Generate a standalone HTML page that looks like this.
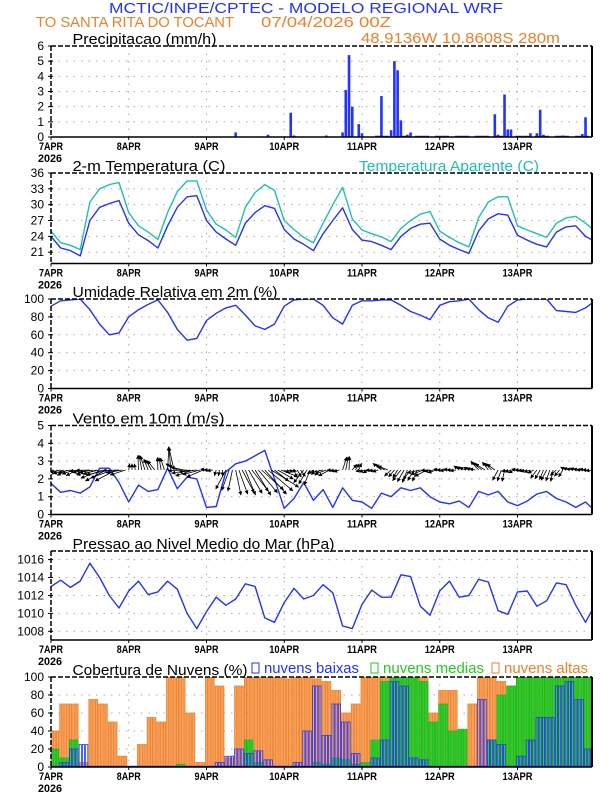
<!DOCTYPE html>
<html><head><meta charset="utf-8">
<style>
html,body{margin:0;padding:0;background:#fff;}
svg{display:block;font-family:"Liberation Sans",sans-serif;}
</style></head>
<body>
<svg id="chart" width="612" height="792" viewBox="0 0 612 792" xmlns="http://www.w3.org/2000/svg">
<defs>
<marker id="ah" viewBox="0 0 10 10" refX="9" refY="5" markerWidth="5" markerHeight="5" orient="auto"><path d="M0,0L10,5L0,10z" fill="#000"/></marker>
</defs>
<text x="109" y="13" font-size="15" fill="#2233ff" textLength="394" lengthAdjust="spacingAndGlyphs">MCTIC/INPE/CPTEC - MODELO REGIONAL WRF</text>
<text x="36" y="27" font-size="15" fill="#f07f2a" textLength="198" lengthAdjust="spacingAndGlyphs">TO SANTA RITA DO TOCANT</text>
<text x="261" y="27" font-size="15" fill="#f07f2a" textLength="130" lengthAdjust="spacingAndGlyphs">07/04/2026 00Z</text>
<text x="361" y="43" font-size="15" fill="#f07f2a" textLength="199" lengthAdjust="spacingAndGlyphs">48.9136W 10.8608S 280m</text>
<g id="plots"></g>
</svg>
<script>
// ---- data (3-hourly unless noted) ----
const dayLabels = ["7APR","8APR","9APR","10APR","11APR","12APR","13APR"];
const precipHours = [57,67,74,75,85,90,91,92,93,95,96,102,105,106,107,108,110,111,137,138,140,141,142,148,150,151,152,158,164,165];
const precipValues = [0.3,0.15,1.6,0.1,0.1,0.3,3.1,5.4,2.0,0.85,0.25,2.7,0.45,5.0,4.4,1.1,0.15,0.3,1.5,0.15,2.8,0.5,0.5,0.25,0.25,1.8,0.15,0.1,0.2,1.3];
const tempValues = [24,21.8,21.3,20.3,27,29.5,30.2,30.8,26.5,24.3,23.2,21.8,26,29.5,31.5,31.7,27,24.8,23.5,22.3,26.5,28.5,29.8,29.3,25.3,23.5,22.5,21.3,24.5,27,29.4,25.3,23.3,23,22.3,21.5,24,25.5,26.3,26.5,23.5,22.3,21.5,20.8,25,27.3,28.3,28,24.2,23.3,22.5,22,24.8,25.8,26,24,23];
const apparentValues = [25,22.8,22.3,21.5,30.5,33,33.8,34.2,28.5,26,24.8,23.4,28.5,32.5,34.5,34.5,29,26.3,25.2,23.8,29.5,32.3,33.8,32.7,27,25.3,23.8,22.8,26.5,30,33.3,27.3,25.2,24.5,23.9,23,25.5,27,28.2,28.7,25,23.8,22.8,22,27.5,30.5,31.5,31.5,26,25.2,24.5,23.8,26.5,27.5,27.8,26.5,25];
const rhValues = [92,98,99,100,88,72,60,62,80,88,94,99,85,66,54,56,76,84,90,93,82,70,66,72,92,99,100,100,93,79,72,93,98,98,99,99,93,86,82,77,93,97,98,100,88,79,74,92,99,100,100,100,87,86,85,90,98];
const windSpeed = [1.75,1.25,1.35,1.2,1.55,2.6,2.6,1.8,0.7,1.65,1.3,1.4,2.6,1.45,2.1,2.0,0.4,0.45,2.4,2.85,3.0,3.3,3.6,2.0,0.35,0.9,1.8,0.8,1.4,0.4,1.5,0.8,0.7,0.35,1.2,1.0,1.5,1.35,1.5,1.0,0.7,0.6,0.75,0.4,1.3,1.1,1.3,0.7,0.5,0.75,1.15,1.3,0.9,0.7,0.4,0.7,0.2];
const windDir = [210,200,200,195,190,200,200,190,90,100,120,100,95,160,190,195,180,260,250,290,300,310,320,330,340,300,240,220,200,190,80,60,200,190,150,230,240,240,200,190,180,180,150,160,140,135,250,200,180,200,240,250,230,160,170,180,180];
const pressValues = [1013.0,1013.7,1012.9,1013.6,1015.6,1014.0,1012.0,1010.6,1012.5,1013.6,1012.1,1012.4,1013.6,1012.7,1010.0,1008.3,1010.2,1011.8,1010.9,1011.6,1013.3,1013.0,1009.5,1009.0,1011.2,1012.8,1011.6,1012.0,1013.2,1012.3,1008.6,1008.3,1011.0,1012.6,1011.8,1011.8,1014.3,1014.1,1010.8,1009.8,1012.5,1013.6,1011.8,1012.0,1013.8,1013.5,1010.3,1009.9,1012.4,1012.5,1010.8,1011.4,1013.4,1013.2,1010.9,1009.0,1011.0];
const cloudHigh = [40,70,70,5,75,70,50,12,0,25,55,50,100,100,60,5,100,90,10,90,100,100,100,100,98,100,100,98,95,85,60,70,100,100,100,100,100,100,100,60,85,85,40,70,100,100,95,90,100,100,100,100,100,100,100,100];
const cloudMid = [20,10,30,0,0,0,0,0,0,0,0,0,0,3,0,0,0,0,0,0,30,5,0,0,0,0,0,5,3,10,8,3,5,30,95,100,100,100,95,50,70,40,42,0,0,30,80,90,100,100,100,100,100,100,100,100];
const cloudLow = [0,5,20,25,0,0,0,0,0,0,0,0,0,0,0,0,0,5,12,20,15,18,8,0,0,5,40,90,35,70,50,15,0,10,30,95,90,10,8,0,0,0,0,0,75,30,25,0,12,30,55,55,90,95,75,20];

// ---- layout ----
const X0 = 51, X1 = 592, HOURS = 167;
const px = h => X0 + h * (X1 - X0) / HOURS;
const NS = "http://www.w3.org/2000/svg";
const root = document.getElementById("plots");
function mk(tag, attrs, parent) {
  const e = document.createElementNS(NS, tag);
  for (const k in attrs) e.setAttribute(k, attrs[k]);
  (parent || root).appendChild(e);
  return e;
}
function panel(name, top, bot, ymin, ymax, ticks, title, clipId) {
  const g = mk("g", {});
  
  
  const Y = v => bot - (v - ymin) / (ymax - ymin) * (bot - top);
  ticks.forEach(t => {
    if (t > ymin && t < ymax) mk("line", {x1: X0, x2: X1, y1: Y(t), y2: Y(t), stroke: "#aaa", "stroke-width": 1, "stroke-dasharray": "1.5,6"}, g);
  });
  for (let d = 1; d < 7; d++) mk("line", {x1: px(d*24), x2: px(d*24), y1: top, y2: bot, stroke: "#aaa", "stroke-width": 1, "stroke-dasharray": "1.5,6"}, g);
  ticks.forEach(t => {
    const tx = mk("text", {x: 44, y: Y(t) + 4, "font-size": 12, "text-anchor": "end", fill: "#000"}, g);
    tx.textContent = t;
    
    
    mk("line", {x1: X0 - 3, x2: X0 + 2, y1: Y(t), y2: Y(t), stroke: "#000", "stroke-width": 1}, g);
  });
  dayLabels.forEach((l, i) => {
    const tx = mk("text", {x: px(i*24), y: bot + 13, "font-size": 11, "font-weight": "bold", "text-anchor": "middle", textLength: l.length * 6, lengthAdjust: "spacingAndGlyphs"}, g);
    tx.textContent = l;
    
    
    mk("line", {x1: px(i*24), x2: px(i*24), y1: bot, y2: bot + 3, stroke: "#000"}, g);
  });
  const yr = mk("text", {x: 38, y: bot + 25, "font-size": 11, "font-weight": "bold", textLength: 24, lengthAdjust: "spacingAndGlyphs"}, g);
  yr.textContent = "2026";
  
  
  const tt = mk("text", {x: 72.5, y: top - 2, "font-size": 15, textLength: title[1], lengthAdjust: "spacingAndGlyphs"}, g);
  tt.textContent = title[0];
  
  
  const cp = mk("clipPath", {id: clipId}, g);
  mk("rect", {x: X0, y: top, width: X1 - X0, height: bot - top}, cp);
  const plot = mk("g", {"clip-path": "url(#" + clipId + ")"}, g);
  const frame = () => {
    mk("line", {x1: X0, x2: X1, y1: top, y2: top, stroke: "#000", "stroke-width": 1.5, "stroke-dasharray": "5,2"}, g);
    mk("line", {x1: X0, x2: X0, y1: top, y2: bot, stroke: "#000", "stroke-width": 1.5, "stroke-dasharray": "5,2"}, g);
    mk("line", {x1: X0, x2: X1, y1: bot, y2: bot, stroke: "#000", "stroke-width": 1.5}, g);
    mk("line", {x1: X1, x2: X1, y1: top, y2: bot, stroke: "#000", "stroke-width": 2}, g);
  };
  return {g, plot, Y, frame};
}
function line(p, vals, color, name) {
  const pts = vals.map((v, i) => px(i*3).toFixed(1) + "," + p.Y(v).toFixed(1)).join(" ");
  const pl = mk("polyline", {points: pts, fill: "none", stroke: color, "stroke-width": 1.4, "stroke-linejoin": "round"}, p.plot);
  
  
}

// precip
const P1 = panel("precip", 46, 137, 0, 6, [0,1,2,3,4,5,6], ["Precipitacao (mm/h)", 144], "c1");
mk("line", {x1: px(100), x2: X1, y1: 136.3, y2: 136.3, stroke: "#2233ff", "stroke-width": 1.2, "stroke-dasharray": "14,6"}, P1.plot);
precipHours.forEach((h, i) => {
  const y = P1.Y(precipValues[i]);
  const r = mk("rect", {x: px(h) - 1.3, y: y, width: 2.6, height: 137 - y, fill: "#2233ff"}, P1.plot);
  
  
});
P1.frame();

// temperature
const P2 = panel("temp", 173, 263.5, 18.86, 36, [21,24,27,30,33,36], ["2-m Temperatura (C)", 153], "c2");
const at = mk("text", {x: 359, y: 171, "font-size": 15, fill: "#20c0b0", textLength: 180, lengthAdjust: "spacingAndGlyphs"}, P2.g);
at.textContent = "Temperatura Aparente (C)";


line(P2, apparentValues, "#20c0b0", "apparent-temp-line");
line(P2, tempValues, "#2233ff", "temp-line");
P2.frame();

// RH
const P3 = panel("rh", 299, 388.5, 0, 100, [0,20,40,60,80,100], ["Umidade Relativa em 2m (%)", 205], "c3");
line(P3, rhValues, "#2233ff", "rh-line");
P3.frame();

// wind
const P4 = panel("wind", 425.5, 514.5, 0, 5, [0,1,2,3,4,5], ["Vento em 10m (m/s)", 152], "c4");
line(P4, windSpeed, "#2233ff", "wind-speed-line");
for (let h = 0; h < 168; h++) {
  const k = Math.min(Math.floor(h/3), windDir.length - 1);
  const L = Math.max(6, windSpeed[k] * 9);
  const a = (windDir[k] + ((h % 3) - 1) * 8) * Math.PI / 180;
  const x0 = px(h), y0 = P4.Y(2.5);
  const ar = mk("line", {x1: x0, y1: y0, x2: x0 + L*Math.cos(a), y2: y0 - L*Math.sin(a), stroke: "#000", "stroke-width": 0.8, "marker-end": "url(#ah)"}, P4.plot);
  
  
}
P4.frame();

// pressure
const P5 = panel("pressure", 551, 640, 1007.03, 1016.96, [1008,1010,1012,1014,1016], ["Pressao ao Nivel Medio do Mar (hPa)", 262], "c5");
line(P5, pressValues, "#2233ff", "pressure-line");
P5.frame();

// clouds
const P6 = panel("cloud", 677, 767, 0, 100, [0,20,40,60,80,100], ["Cobertura de Nuvens (%)", 175], "c6");
function legend(x, label, color, w) {
  mk("rect", {x: x, y: 663, width: 7, height: 10, fill: "none", stroke: color, "stroke-width": 1}, P6.g);
  const t = mk("text", {x: x + 12, y: 673, "font-size": 15, fill: color, textLength: w, lengthAdjust: "spacingAndGlyphs"}, P6.g);
  t.textContent = label;
  
  
}
legend(252, "nuvens baixas", "#2233ff", 95);
legend(371, "nuvens medias", "#22cc22", 101);
legend(492, "nuvens altas", "#f07f2a", 84);
function cloudBars(vals, fill, stroke, name) {
  for (let h = 0; h < 168; h++) {
    const k = Math.floor(h/3);
    if (k >= vals.length || vals[k] <= 0) continue;
    const y = P6.Y(vals[k]);
    const r = mk("rect", {x: px(h) - 1.0, y: y, width: 2.2, height: 767 - y, fill: fill, stroke: stroke, "stroke-width": 0.8}, P6.plot);
    
    
  }
}
cloudBars(cloudHigh, "#f8a45c", "#ee7a22", "high-cloud-bar");
cloudBars(cloudMid, "#33cc33", "#11bb11", "mid-cloud-bar");
cloudBars(cloudLow, "none", "#2233ff", "low-cloud-bar");
mk("line", {x1: X0, x2: X1, y1: 766.3, y2: 766.3, stroke: "#2233ff", "stroke-width": 1.2}, P6.plot);
P6.frame();
</script>
</body></html>
